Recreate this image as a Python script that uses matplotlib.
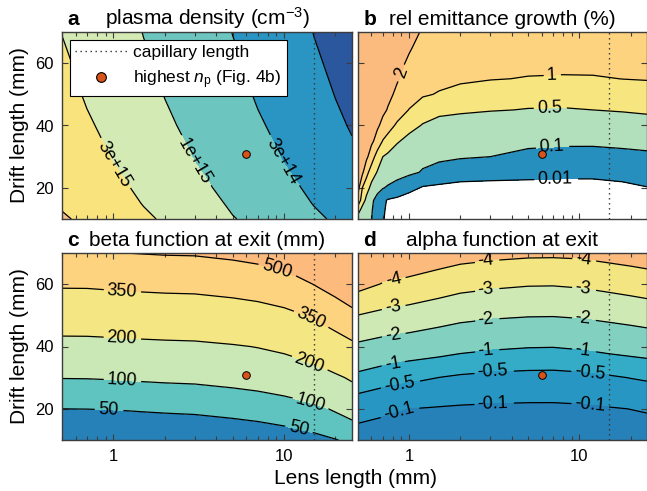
import numpy as np
import matplotlib
matplotlib.use("Agg")
import matplotlib.pyplot as plt
from matplotlib.ticker import FixedLocator, LogLocator, NullFormatter, NullLocator
from matplotlib.lines import Line2D

plt.rcParams['font.family'] = ['Liberation Sans', 'DejaVu Sans']
plt.rcParams['mathtext.fontset'] = 'custom'
plt.rcParams['mathtext.rm'] = 'Liberation Sans'
plt.rcParams['mathtext.it'] = 'Liberation Sans:italic'
plt.rcParams['mathtext.bf'] = 'Liberation Sans:bold'
plt.rcParams['contour.negative_linestyle'] = 'solid'

# ---------------- data ----------------
capillary_length = 15.0          # mm
best_lens, best_drift = 6.0, 31.0  # highest n_p working point (mm)

# (a) plasma density, log10(n / cm^-3)
lens_a = [0.5, 0.7, 1, 1.5, 2, 3, 5, 7, 10, 15, 20, 25]
drift_a = [10, 15, 20, 30, 40, 50, 60, 70]
density_log10 = [
    [16.06, 15.88, 15.72, 15.55, 15.42, 15.25, 15.02, 14.88, 14.72, 14.55, 14.42, 14.33],
    [15.94, 15.79, 15.64, 15.46, 15.34, 15.16, 14.94, 14.79, 14.64, 14.46, 14.34, 14.24],
    [15.87, 15.72, 15.57, 15.39, 15.27, 15.09, 14.87, 14.72, 14.57, 14.39, 14.27, 14.17],
    [15.76, 15.61, 15.45, 15.28, 15.15, 14.98, 14.76, 14.61, 14.45, 14.28, 14.15, 14.06],
    [15.66, 15.52, 15.36, 15.19, 15.06, 14.89, 14.66, 14.52, 14.36, 14.19, 14.06, 13.97],
    [15.59, 15.44, 15.29, 15.11, 14.99, 14.81, 14.59, 14.44, 14.29, 14.11, 13.99, 13.89],
    [15.53, 15.38, 15.23, 15.05, 14.92, 14.75, 14.53, 14.38, 14.23, 14.05, 13.92, 13.83],
    [15.47, 15.32, 15.17, 14.99, 14.87, 14.69, 14.47, 14.32, 14.17, 13.99, 13.87, 13.77],
]
density_bounds = [1e14, 3e14, 1e15, 3e15, 1e16]

# (b) relative emittance growth, log10(%)
lens_b = [0.5, 0.53, 0.56, 0.6, 0.65, 0.7, 0.75, 0.85, 1.0, 1.2, 1.5, 2, 3, 5, 8, 12, 18, 25]
drift_b = [10, 13, 16, 20, 25, 30, 35, 40, 45, 50, 55, 60, 65, 70]
growth_log10 = [
    [-0.45, -0.62, -0.78, -0.98, -1.47, -1.94, -2.20, -2.40, -2.50, -2.60, -2.60, -2.60, -2.60, -2.60, -2.60, -2.60, -2.60, -2.60],
    [-0.15, -0.41, -0.64, -0.93, -1.41, -1.89, -2.15, -2.35, -2.50, -2.60, -2.60, -2.60, -2.60, -2.60, -2.60, -2.60, -2.60, -2.50],
    [0.20, -0.14, -0.38, -0.82, -1.34, -1.82, -2.08, -2.20, -2.45, -2.55, -2.60, -2.60, -2.60, -2.60, -2.60, -2.60, -2.50, -2.40],
    [0.40, 0.00, -0.17, -0.39, -0.68, -0.95, -1.11, -1.37, -1.71, -2.09, -2.20, -2.30, -2.30, -2.30, -2.30, -2.30, -2.20, -2.03],
    [0.45, 0.36, 0.10, -0.145, -0.32, -0.41, -0.49, -0.64, -0.83, -1.064, -1.29, -1.524, -1.641, -1.72, -1.773, -1.776, -1.68, -1.575],
    [0.50, 0.43, 0.365, 0.15, -0.14, -0.301, -0.363, -0.474, -0.62, -0.784, -0.85, -0.922, -1.0, -1.183, -1.258, -1.265, -1.194, -1.133],
    [0.55, 0.49, 0.43, 0.355, 0.20, -0.018, -0.107, -0.268, -0.41, -0.554, -0.635, -0.692, -0.757, -0.83, -0.865, -0.865, -0.822, -0.78],
    [0.60, 0.54, 0.487, 0.418, 0.338, 0.236, 0.114, -0.05, -0.185, -0.324, -0.421, -0.462, -0.515, -0.573, -0.594, -0.583, -0.526, -0.465],
    [0.63, 0.58, 0.535, 0.477, 0.409, 0.347, 0.286, 0.153, -0.012, -0.12, -0.214, -0.248, -0.282, -0.316, -0.323, -0.301, -0.268, -0.238],
    [0.65, 0.607, 0.566, 0.515, 0.455, 0.40, 0.349, 0.26, 0.149, 0.025, -0.016, -0.071, -0.127, -0.161, -0.167, -0.159, -0.131, -0.106],
    [0.67, 0.632, 0.595, 0.549, 0.496, 0.447, 0.40, 0.318, 0.21, 0.089, 0.056, 0.035, 0.011, -0.012, -0.02, -0.017, 0.003, 0.0125],
    [0.69, 0.655, 0.62, 0.578, 0.528, 0.483, 0.44, 0.363, 0.263, 0.153, 0.118, 0.093, 0.074, 0.06, 0.057, 0.058, 0.068, 0.075],
    [0.70, 0.669, 0.639, 0.601, 0.558, 0.518, 0.48, 0.412, 0.324, 0.216, 0.179, 0.152, 0.137, 0.125, 0.123, 0.124, 0.134, 0.138],
    [0.72, 0.691, 0.663, 0.628, 0.587, 0.55, 0.515, 0.45, 0.371, 0.28, 0.24, 0.21, 0.20, 0.19, 0.19, 0.19, 0.20, 0.20],
]
growth_levels = [0.01, 0.1, 0.5, 1, 2]

# (c) beta function at exit (mm)
lens_c = [0.5, 0.7, 1, 1.5, 2, 3, 5, 7, 10, 15, 20, 25]
drift_c = [10, 20, 30, 40, 50, 60, 70]
beta_mm = [
    [16.6, 16.7, 17.1, 18.3, 19.2, 20.3, 23.3, 26.0, 30.3, 38.3, 48.3, 58.5],
    [50.0, 50.3, 51.3, 53.4, 54.9, 56.6, 61.8, 66.4, 74.0, 89.1, 106.1, 123.2],
    [101.4, 101.8, 103.8, 106.9, 109.0, 111.1, 118.6, 125.4, 136.9, 161.0, 186.3, 211.7],
    [170.8, 171.3, 174.8, 178.8, 181.4, 183.9, 193.8, 203.1, 219.0, 254.1, 289.0, 324.0],
    [258.2, 258.9, 264.1, 269.0, 272.3, 274.9, 287.3, 299.3, 320.4, 368.3, 414.1, 460.1],
    [363.7, 364.4, 371.7, 377.5, 381.4, 384.2, 399.2, 414.1, 441.0, 503.6, 561.7, 620.0],
    [487.1, 488.0, 497.7, 504.4, 509.0, 511.7, 529.5, 547.6, 580.8, 660.0, 731.7, 803.7],
]
beta_levels = [50, 100, 200, 350, 500]

# (d) alpha function at exit
lens_d = [0.5, 0.7, 1, 1.5, 2, 3, 5, 7, 10, 15, 20, 25]
drift_d = [10, 15, 20, 25, 30, 35, 40, 50, 60, 70]
alpha_exit = [
    [-0.025, -0.013, -0.008, -0.006, -0.006, -0.005, -0.005, -0.005, -0.005, -0.007, -0.008, -0.010],
    [-0.088, -0.044, -0.029, -0.022, -0.019, -0.017, -0.016, -0.016, -0.018, -0.024, -0.029, -0.036],
    [-0.260, -0.161, -0.100, -0.078, -0.067, -0.059, -0.055, -0.055, -0.062, -0.084, -0.103, -0.124],
    [-0.506, -0.388, -0.308, -0.240, -0.206, -0.181, -0.169, -0.168, -0.185, -0.223, -0.268, -0.303],
    [-0.823, -0.690, -0.594, -0.494, -0.437, -0.391, -0.368, -0.364, -0.393, -0.450, -0.511, -0.557],
    [-1.286, -1.089, -0.959, -0.838, -0.757, -0.690, -0.654, -0.647, -0.687, -0.767, -0.833, -0.886],
    [-1.835, -1.644, -1.506, -1.326, -1.200, -1.093, -1.031, -1.020, -1.082, -1.204, -1.289, -1.365],
    [-2.988, -2.773, -2.622, -2.409, -2.250, -2.124, -2.051, -2.040, -2.102, -2.229, -2.333, -2.429],
    [-4.320, -3.941, -3.733, -3.484, -3.304, -3.165, -3.067, -3.056, -3.129, -3.277, -3.396, -3.495],
    [-5.650, -5.118, -4.844, -4.559, -4.391, -4.264, -4.178, -4.167, -4.204, -4.340, -4.438, -4.526],
]
alpha_levels = [-4, -3, -2, -1, -0.5, -0.1]

# ---------------- style ----------------
FS_LABEL = 15
FS_TICK = 12
FS_CLABEL = 13
DOT_COLOR = '#D95319'
SPINE_COLOR = '#3c3c3c'

fig = plt.figure(figsize=(6.47, 4.91), dpi=100)
W, H = 647.0, 491.0
def axes_px(left, top, right, bottom):
    return fig.add_axes([left / W, 1 - bottom / H, (right - left) / W, (bottom - top) / H])

ax_a = axes_px(62, 32, 352, 219)
ax_b = axes_px(358, 32, 647, 219)
ax_c = axes_px(62, 253, 352, 440)
ax_d = axes_px(358, 253, 647, 440)


def style_axes(ax, letter, title, show_x, show_y):
    # scale and limits first, so contour labels are placed in final screen space
    ax.set_xscale('log')
    ax.set_xlim(0.5, 25)
    ax.set_ylim(10, 70)
    ax.set_autoscale_on(False)
    ax.xaxis.set_major_locator(FixedLocator([1, 10]))
    ax.xaxis.set_minor_locator(LogLocator(base=10, subs=np.arange(2, 10)))
    ax.xaxis.set_minor_formatter(NullFormatter())
    ax.set_xticks([1, 10], labels=['1', '10'] if show_x else ['', ''])
    ax.set_yticks([20, 40, 60], labels=['20', '40', '60'] if show_y else ['', '', ''])
    ax.yaxis.set_minor_locator(NullLocator())
    ax.tick_params(which='both', direction='in', top=True, right=True,
                   color=SPINE_COLOR, width=0.8, labelsize=FS_TICK)
    ax.tick_params(which='major', length=4.2)
    ax.tick_params(which='minor', length=2.6)
    ax.tick_params(axis='x', pad=6.5)
    ax.tick_params(axis='y', pad=6)
    for s in ax.spines.values():
        s.set_color(SPINE_COLOR)
        s.set_linewidth(1.0)
    ax.set_title(title, fontsize=FS_LABEL, pad=5)
    ax.annotate(letter, xy=(0, 1), xycoords='axes fraction', xytext=(4, 5),
                textcoords='offset points', fontsize=FS_LABEL, fontweight='bold',
                va='baseline', ha='left')
    if show_y:
        ax.set_ylabel('Drift length (mm)', fontsize=FS_LABEL, labelpad=4)
    ax.axvline(capillary_length, color='#333333', ls=(0, (1, 2.6)), lw=1.0, zorder=4)
    ax.plot([best_lens], [best_drift], 'o', ms=5.5, mfc=DOT_COLOR, mec='k',
            mew=0.7, zorder=6)


def draw_map(ax, lens, drift, values, bounds, colors, lines, fmt, label_pos):
    X, Y = np.meshgrid(lens, drift)
    Z = np.asarray(values, dtype=float)
    ax.contourf(X, Y, Z, levels=bounds, colors=colors, zorder=1)
    cs = ax.contour(X, Y, Z, levels=lines, colors='k', linewidths=0.9,
                    linestyles='solid', zorder=2)
    ax.clabel(cs, levels=lines, manual=label_pos, fmt=fmt, fontsize=FS_CLABEL,
              inline=True, inline_spacing=4)
    return cs


# (a) plasma density
style_axes(ax_a, 'a', 'plasma density (cm$^{-3}$)', False, True)
a_lines = list(np.log10(density_bounds))
draw_map(ax_a, lens_a, drift_a, density_log10, [13.0] + a_lines + [17.0],
         ['#2B579F', '#2A95C2', '#6CC6BF', '#D4EAB4', '#F8E37C', '#F8BC86'],
         a_lines, lambda v: f'{10 ** v:.0e}',
         [(1.09, 29), (3.1, 29), (10.2, 29)])

leg = ax_a.legend(
    handles=[Line2D([], [], color='#333333', ls=(0, (1, 2.6)), lw=1.0),
             Line2D([], [], marker='o', ls='none', ms=7, mfc=DOT_COLOR, mec='k', mew=0.8)],
    labels=['capillary length', r'highest $n_{\mathrm{p}}$ (Fig. 4b)'],
    loc='upper left', bbox_to_anchor=(0.028, 0.957), borderaxespad=0,
    fontsize=12.5, frameon=True, fancybox=False, framealpha=1, edgecolor='k',
    handlelength=3.0, handletextpad=0.35, borderpad=0.3, labelspacing=0.45)
leg.get_frame().set_linewidth(0.8)
leg.set_zorder(10)

# (b) relative emittance growth
style_axes(ax_b, 'b', 'rel emittance growth (%)', False, False)
b_lines = list(np.log10(growth_levels))
draw_map(ax_b, lens_b, drift_b, growth_log10, [-3.0] + b_lines + [1.0],
         ['white', '#268FBE', '#B2DFBC', '#F7E580', '#FDD37F', '#FBBA7E'],
         b_lines, lambda v: f'{10 ** v:g}',
         [(0.90, 56.8), (6.9, 55.5), (6.7, 44.4), (6.9, 32.4), (7.2, 23.0)])

# (c) beta function
style_axes(ax_c, 'c', 'beta function at exit (mm)', True, True)
draw_map(ax_c, lens_c, drift_c, beta_mm, [0] + beta_levels + [1000],
         ['#2681B9', '#5FC3C0', '#C9E8B5', '#F3E683', '#FDD37F', '#FCBA7C'],
         beta_levels, lambda v: f'{v:g}',
         [(0.93, 19.1), (1.12, 29.5), (1.12, 43.6), (1.12, 58.4), (8.9, 63.0),
          (14.2, 48.5), (14.0, 34.7), (14.2, 21.8), (12.2, 13.3)])

# (d) alpha function
style_axes(ax_d, 'd', 'alpha function at exit', True, False)
draw_map(ax_d, lens_d, drift_d, alpha_exit, [-6.0] + alpha_levels + [1.0],
         ['#FCBA7D', '#F3E682', '#CFE9B4', '#82D0C0', '#34ABC7', '#2896C3', '#2681B9'],
         alpha_levels, lambda v: f'{v:g}',
         [(0.81, 61.3), (0.81, 52.2), (0.81, 43.3), (0.81, 33.5), (0.88, 27.6), (0.86, 20.0),
          (2.82, 67.2), (2.82, 58.3), (2.82, 49.0), (2.82, 38.6), (3.08, 31.8), (3.08, 22.2),
          (10.5, 67.2), (10.5, 58.3), (10.5, 49.1), (10.5, 38.3), (11.5, 31.3), (11.5, 20.9)])

fig.text(355 / W, 1 - 484 / H, 'Lens length (mm)', ha='center', va='baseline',
         fontsize=FS_LABEL)

fig.savefig('out.png', dpi=100)
